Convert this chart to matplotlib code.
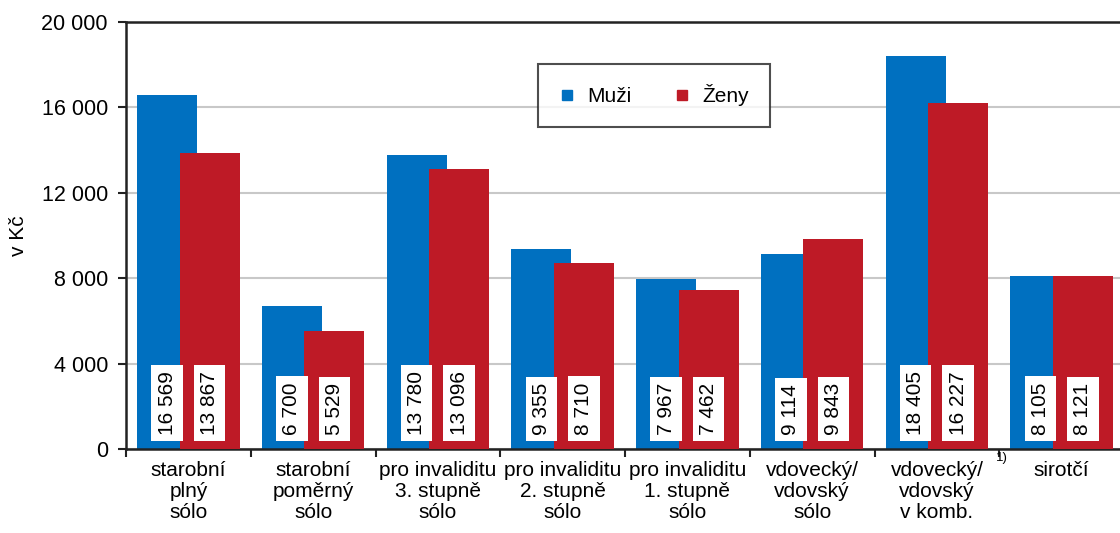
import numpy as np
import matplotlib.pyplot as plt
from matplotlib.lines import Line2D
from matplotlib.ticker import FuncFormatter, FixedLocator
import matplotlib.transforms as mtransforms

plt.rcParams['font.family'] = ['Liberation Sans', 'DejaVu Sans']

categories = ["starobní\nplný\nsólo", "starobní\npoměrný\nsólo",
              "pro invaliditu\n3. stupně\nsólo", "pro invaliditu\n2. stupně\nsólo",
              "pro invaliditu\n1. stupně\nsólo", "vdovecký/\nvdovský\nsólo",
              "vdovecký/\nvdovský\nv komb.", "sirotčí"]
muzi = [16569, 6700, 13780, 9355, 7967, 9114, 18405, 8105]
zeny = [13867, 5529, 13096, 8710, 7462, 9843, 16227, 8121]

blue = "#0070C0"
red = "#BE1A26"

def fmt(v):
    return f"{int(v):,}".replace(",", " ")

fig = plt.figure(figsize=(11.2, 5.33), dpi=100)
ax = fig.add_axes([126/1120, 1-449/533, 998/1120, 427/533])

x = np.arange(len(categories))
w = 0.48
off = 0.17
ax.bar(x - off, muzi, width=w, color=blue, zorder=2)
ax.bar(x + off, zeny, width=w, color=red, zorder=3)

box = dict(boxstyle="square,pad=0.3", fc="white", ec="none")
for i in range(len(x)):
    ax.text(x[i] - off, 650, fmt(muzi[i]), rotation=90, ha="center", va="bottom",
            fontsize=15, bbox=box, zorder=4)
    ax.text(x[i] + off, 650, fmt(zeny[i]), rotation=90, ha="center", va="bottom",
            fontsize=15, bbox=box, zorder=4)

ax.set_xlim(-0.5, len(x) - 0.5)
ax.set_ylim(0, 20000)
ax.set_yticks(np.arange(0, 20001, 4000))
ax.yaxis.set_major_formatter(FuncFormatter(lambda v, p: fmt(v)))
ax.grid(axis="y", color="#c8c8c8", linewidth=1.5, zorder=0)
ax.set_axisbelow(True)

ax.set_xticks(x)
ax.set_xticklabels(categories, fontsize=15, linespacing=1.12)
ax.xaxis.set_minor_locator(FixedLocator(np.arange(-0.5, len(x), 1.0)))
ax.tick_params(axis="x", which="major", length=0, pad=9)
ax.tick_params(axis="x", which="minor", length=6, width=1.5, color="#222222")
ax.tick_params(axis="y", length=6, width=1.5, color="#222222", pad=7, labelsize=15.5)

for s in ["left", "bottom", "top"]:
    ax.spines[s].set_color("#222222")
    ax.spines[s].set_linewidth(1.8)
ax.spines["right"].set_visible(False)

ax.set_ylabel("v Kč", fontsize=15, labelpad=10)

# superscript note on the combined widow pension label
trans = mtransforms.blended_transform_factory(ax.transData, ax.transAxes)
ax.text(6.475, -0.006, "1)", transform=trans, fontsize=9.5, ha="left", va="top")

handles = [Line2D([], [], marker="s", linestyle="none", color=blue, markersize=7),
           Line2D([], [], marker="s", linestyle="none", color=red, markersize=7)]
leg = ax.legend(handles, ["Muži", "Ženy"], loc="center", bbox_to_anchor=(0.529, 0.828),
                ncol=2, fontsize=15, frameon=True, fancybox=False, borderpad=1.0,
                handlelength=0.8, handletextpad=0.6, columnspacing=2.0, borderaxespad=0)
leg.get_frame().set_edgecolor("#222222")
leg.get_frame().set_linewidth(1.5)

fig.savefig("out.png", dpi=100)
